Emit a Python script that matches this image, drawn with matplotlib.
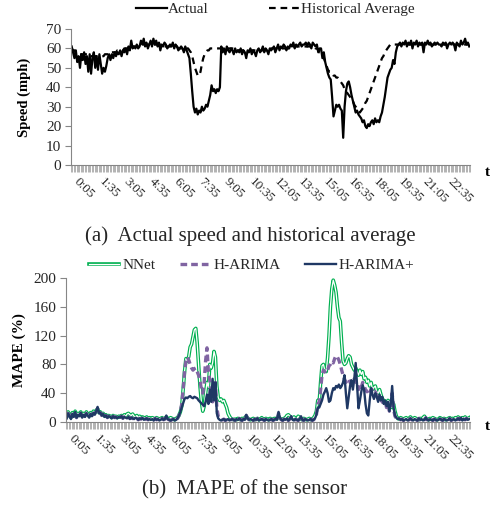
import numpy as np
import matplotlib
matplotlib.use('Agg')
import matplotlib.pyplot as plt

plt.rcParams['font.family'] = ['Liberation Serif', 'DejaVu Serif']

# 5-minute intervals, 0:05 .. 24:00 (288 points)
tick_idx = list(range(0, 288, 18))
tick_labels = ['0:05', '1:35', '3:05', '4:35', '6:05', '7:35', '9:05', '10:35',
               '12:05', '13:35', '15:05', '16:35', '18:05', '19:35', '21:05', '22:35']

actual = [
    61, 58, 55, 59, 53, 56, 50, 57, 54, 58, 52, 56,
    48, 57, 47, 55, 58, 50, 56, 49, 57, 52, 47, 50,
    48, 51, 55, 57, 54, 57, 55, 58, 56, 58, 57, 59,
    56, 59, 58, 60, 57, 61, 59, 64, 60, 61, 60, 62,
    60, 61, 64, 62, 65, 61, 63, 60, 62, 64, 61, 65,
    62, 64, 61, 63, 59, 62, 61, 63, 62, 60, 61, 62,
    61, 63, 60, 62, 61, 59, 60, 61, 60, 58, 61, 59,
    57, 55, 47, 38, 30, 27, 29, 26, 28, 27, 30, 28,
    29, 31, 30, 33, 36, 41, 38, 39, 37, 39, 38, 40,
    61, 58, 60, 57, 61, 59, 58, 60, 59, 57, 60, 58,
    59, 58, 60, 57, 59, 58, 55, 59, 58, 60, 57, 59,
    58, 56, 59, 60, 58, 59, 61, 58, 60, 59, 57, 60,
    59, 60, 61, 58, 60, 62, 59, 61, 60, 62, 61, 59,
    61, 60, 62, 61, 63, 60, 62, 61, 62, 63, 61, 62,
    62, 63, 61, 63, 62, 60, 63, 62, 61, 62, 58, 60,
    60, 55, 58, 53, 50, 47, 45, 44, 35, 25, 28, 31,
    30, 31, 29, 28, 14, 30, 38, 42, 43, 40, 36, 33,
    30, 27, 28, 26, 25, 24, 22, 23, 20, 19, 21, 20,
    22, 23, 21, 24, 22, 23, 22, 25, 27, 31, 35, 40,
    45, 47, 49, 50, 54, 52, 58, 61, 62, 63, 61, 63,
    62, 64, 61, 63, 62, 64, 60, 63, 62, 64, 61, 63,
    62, 63, 58, 63, 62, 64, 62, 63, 61, 62, 63, 62,
    63, 62, 62, 61, 63, 62, 63, 60, 62, 63, 62, 63,
    62, 59, 63, 62, 61, 64, 62, 63, 65, 62, 63, 61,
]

hist_avg = [
    60, 59, 59, 58, 58, 58, 57, 57, 57, 57, 57, 57,
    56, 56, 56, 56, 56, 56, 56, 56, 56, 56, 56, 56,
    57, 57, 57, 57, 58, 58, 58, 58, 58, 59, 59, 59,
    59, 59, 60, 60, 60, 60, 60, 61, 61, 61, 61, 61,
    61, 61, 62, 62, 62, 62, 62, 62, 62, 62, 62, 62,
    62, 62, 62, 62, 62, 62, 61, 61, 61, 61, 61, 61,
    61, 61, 61, 61, 61, 60, 60, 60, 60, 60, 60, 60,
    60, 59, 58, 56, 53, 50, 48, 46, 46, 48, 52, 55,
    57, 58, 59, 59, 60, 60, 60, 60, 60, 60, 60, 60,
    60, 60, 59, 59, 59, 60, 60, 60, 60, 60, 59, 59,
    59, 59, 59, 59, 59, 59, 59, 59, 59, 59, 59, 59,
    59, 59, 59, 59, 59, 59, 59, 59, 59, 59, 59, 59,
    60, 60, 60, 60, 60, 60, 60, 60, 60, 60, 60, 60,
    60, 60, 60, 61, 61, 61, 61, 61, 61, 61, 61, 61,
    61, 61, 61, 61, 61, 61, 61, 61, 60, 60, 59, 58,
    58, 57, 55, 53, 51, 49, 48, 48, 47, 46, 46, 45,
    45, 44, 43, 42, 41, 39, 38, 37, 36, 35, 34, 33,
    31, 30, 29, 28, 27, 28, 29, 30, 32, 33, 35, 37,
    39, 41, 43, 45, 47, 49, 51, 53, 55, 56, 58, 59,
    60, 61, 62, 62, 62, 62, 62, 62, 62, 62, 62, 62,
    62, 62, 62, 62, 62, 62, 62, 62, 62, 62, 62, 62,
    62, 62, 62, 62, 62, 62, 62, 62, 62, 62, 62, 62,
    62, 62, 62, 62, 62, 62, 62, 62, 62, 62, 62, 62,
    62, 62, 62, 62, 62, 62, 62, 62, 62, 62, 62, 62,
]

mape_nnet = [
    8, 14, 10, 6, 13, 9, 15, 7, 12, 10, 14, 8,
    12, 9, 14, 11, 8, 13, 10, 15, 12, 16, 18, 13,
    14, 10, 12, 8, 10, 7, 9, 8, 6, 9, 7, 8,
    6, 8, 7, 9, 6, 10, 8, 11, 12, 10, 9, 11,
    8, 7, 9, 6, 8, 5, 7, 6, 5, 7, 5, 6,
    4, 6, 5, 4, 6, 5, 4, 5, 6, 4, 5, 7,
    5, 4, 6, 5, 4, 3, 5, 6, 9, 14, 22, 45,
    70, 88, 85, 91, 104, 108, 118, 128, 130, 110, 80, 50,
    28, 15, 22, 40, 55, 48, 80, 75, 82, 98, 90, 50,
    34, 30, 32, 28, 30, 25, 20, 12, 8, 5, 4, 3,
    4, 3, 5, 4, 3, 5, 4, 6, 8, 5, 4, 3,
    4, 5, 3, 4, 5, 3, 4, 6, 4, 3, 5, 4,
    3, 5, 4, 3, 5, 4, 6, 8, 5, 4, 3, 5,
    6, 9, 10, 8, 6, 5, 7, 5, 4, 8, 6, 4,
    3, 5, 4, 3, 4, 5, 3, 4, 6, 9, 15, 30,
    28, 55, 78, 80, 72, 70, 90, 120, 160, 185, 197, 190,
    180, 160, 145, 140, 110, 85, 80, 82, 88, 92, 90, 80,
    76, 72, 75, 70, 65, 72, 66, 70, 60, 62, 55, 58,
    50, 55, 45, 48, 50, 42, 40, 45, 38, 32, 30, 28,
    25, 30, 28, 22, 20, 25, 15, 8, 5, 4, 6, 5,
    4, 5, 6, 4, 5, 7, 5, 4, 6, 5, 4, 3,
    5, 4, 6, 8, 5, 4, 3, 5, 4, 6, 5, 4,
    3, 4, 6, 5, 4, 5, 3, 4, 5, 6, 4, 5,
    4, 6, 5, 7, 5, 4, 6, 5, 7, 4, 5, 6,
]

mape_harima = [
    6, 12, 9, 5, 11, 8, 13, 6, 11, 9, 12, 7,
    11, 8, 12, 10, 7, 11, 9, 13, 11, 14, 19, 12,
    13, 9, 11, 7, 9, 6, 8, 7, 5, 8, 6, 7,
    5, 7, 6, 8, 5, 7, 6, 6, 7, 5, 6, 5,
    4, 6, 5, 3, 5, 4, 6, 3, 4, 5, 3, 4,
    3, 4, 3, 5, 3, 4, 2, 3, 5, 3, 4, 8,
    4, 3, 2, 3, 4, 2, 3, 5, 9, 15, 25, 45,
    70, 85, 90, 86, 80, 75, 72, 74, 75, 70, 65, 58,
    45, 40, 55, 85, 103, 70, 58, 30, 28, 45, 55, 20,
    8, 5, 3, 3, 4, 2, 3, 4, 2, 3, 4, 3,
    2, 4, 3, 5, 3, 2, 4, 3, 9, 5, 3, 4,
    3, 2, 4, 3, 5, 2, 3, 4, 3, 2, 4, 3,
    2, 3, 4, 2, 3, 5, 3, 12, 6, 3, 2, 4,
    3, 5, 2, 4, 7, 3, 2, 4, 3, 2, 4, 7,
    3, 2, 4, 3, 2, 3, 4, 2, 3, 5, 10, 25,
    28, 45, 65, 72, 70, 68, 72, 78, 80, 84, 82, 88,
    92, 90, 86, 80, 72, 65, 60, 55, 58, 60, 55, 52,
    56, 60, 58, 50, 45, 52, 48, 55, 50, 45, 42, 44,
    40, 46, 44, 40, 42, 36, 33, 35, 30, 28, 25, 28,
    20, 25, 15, 22, 40, 18, 8, 5, 4, 5, 3, 4,
    2, 3, 4, 2, 3, 5, 3, 2, 4, 3, 2, 5,
    3, 4, 2, 3, 6, 3, 2, 4, 3, 2, 4, 3,
    2, 3, 5, 3, 2, 4, 3, 2, 3, 5, 2, 3,
    4, 2, 3, 5, 3, 6, 2, 4, 3, 5, 3, 4,
]

mape_harima_plus = [
    5, 12, 8, 4, 11, 7, 14, 6, 10, 8, 13, 6,
    10, 7, 12, 9, 6, 11, 8, 13, 10, 15, 21, 12,
    13, 9, 11, 7, 9, 6, 8, 7, 5, 8, 6, 7,
    5, 7, 6, 8, 5, 7, 6, 5, 7, 4, 6, 5,
    4, 6, 5, 3, 5, 4, 6, 3, 4, 5, 3, 4,
    3, 4, 2, 5, 3, 4, 2, 3, 5, 3, 4, 9,
    4, 3, 2, 3, 4, 2, 3, 5, 9, 14, 20, 26,
    32, 34, 33, 35, 36, 34, 33, 35, 34, 33, 30, 28,
    26, 24, 22, 28, 38, 25, 45, 28, 60, 30, 55, 12,
    5, 3, 2, 3, 4, 2, 3, 4, 2, 3, 4, 3,
    2, 4, 3, 5, 3, 2, 4, 3, 10, 5, 3, 4,
    3, 2, 4, 3, 5, 2, 3, 4, 3, 2, 4, 3,
    2, 3, 4, 2, 3, 5, 3, 14, 6, 3, 2, 4,
    3, 5, 2, 4, 8, 3, 2, 4, 3, 2, 4, 8,
    3, 2, 4, 3, 2, 3, 4, 2, 3, 5, 10, 20,
    20, 25, 30, 38, 42, 47, 40, 28, 30, 40, 47, 45,
    50, 48, 52, 47, 50, 55, 65, 40, 19, 35, 50, 58,
    45, 60, 82, 50, 19, 30, 42, 51, 45, 25, 12, 9,
    30, 47, 38, 32, 40, 35, 28, 38, 30, 35, 25, 30,
    22, 28, 15, 25, 50, 20, 9, 6, 4, 5, 3, 4,
    2, 3, 4, 2, 3, 5, 3, 2, 4, 3, 2, 5,
    3, 4, 2, 3, 6, 3, 2, 4, 3, 2, 4, 3,
    2, 3, 5, 3, 2, 4, 3, 2, 3, 5, 2, 3,
    4, 2, 3, 5, 3, 6, 2, 4, 3, 5, 3, 4,
]

x = np.arange(len(actual))
gray = '#868686'
txt = '#262626'


def style_axis(ax, ymax, ystep):
    ax.set_xlim(-0.5, len(x) - 0.5)
    ax.set_ylim(0, ymax)
    ax.spines['top'].set_visible(False)
    ax.spines['right'].set_visible(False)
    ax.spines['left'].set_color(gray)
    ax.spines['bottom'].set_color(gray)
    ax.set_yticks(np.arange(0, ymax + 1, ystep))
    ax.tick_params(axis='y', length=4, color=gray, labelsize=11, labelcolor=txt, pad=3)
    ax.set_xticks(tick_idx)
    ax.set_xticklabels(tick_labels, rotation=-45, ha='left', va='top',
                       fontsize=9.5, color=txt)
    ax.tick_params(axis='x', which='major', length=0, pad=8)
    ax.set_xticks(np.arange(-0.5, len(x), 1), minor=True)
    ax.tick_params(axis='x', which='minor', length=5, width=0.6, color='#A6A6A6')


fig = plt.figure(figsize=(4.96, 5.05), dpi=100)

# (a) speed
ax1 = fig.add_axes([0.1431, 0.6733, 0.8044, 0.2693])
l_act, = ax1.plot(x, actual, color='black', lw=1.6)
l_hist, = ax1.plot(x, hist_avg, color='black', lw=1.6, dashes=(3, 2.2))
style_axis(ax1, 70, 10)
ax1.set_ylabel('Speed (mph)', fontsize=10.5, fontweight='bold', labelpad=11)
fig.legend([l_act, l_hist], ['Actual', 'Historical Average'], ncol=2, frameon=False,
           loc='center', bbox_to_anchor=(0.555, 0.982), fontsize=11,
           handlelength=2.0, handletextpad=0.1, columnspacing=3.9, labelcolor=txt)
fig.text(0.983, 0.659, 't', fontsize=11, fontweight='bold', ha='center', va='center')
fig.text(0.504, 0.532, '(a)  Actual speed and historical average', fontsize=15,
         ha='center', va='center', color=txt)

# (b) MAPE
ax2 = fig.add_axes([0.1331, 0.1644, 0.8145, 0.2851])
g1, = ax2.plot(x, mape_nnet, color='#00B050', lw=2.6)
g2, = ax2.plot(x, mape_nnet, color='white', lw=0.9)
l_ha, = ax2.plot(x, mape_harima, color='#8064A2', lw=2.4, dashes=(2, 1.2))
l_hp, = ax2.plot(x, mape_harima_plus, color='#1F3864', lw=1.7)
style_axis(ax2, 200, 40)
ax2.set_ylabel('MAPE (%)', fontsize=11, fontweight='bold', labelpad=5)
fig.legend([(g1, g2), l_ha, l_hp], ['NNet', 'H-ARIMA', 'H-ARIMA+'], ncol=3,
           frameon=False, loc='center', bbox_to_anchor=(0.507, 0.475), fontsize=11,
           handlelength=2.0, handletextpad=0.2, columnspacing=1.6, labelcolor=txt)
fig.text(0.983, 0.156, 't', fontsize=11, fontweight='bold', ha='center', va='center')
fig.text(0.494, 0.03, '(b)  MAPE of the sensor', fontsize=15,
         ha='center', va='center', color=txt)

fig.savefig('out.png', dpi=100)
